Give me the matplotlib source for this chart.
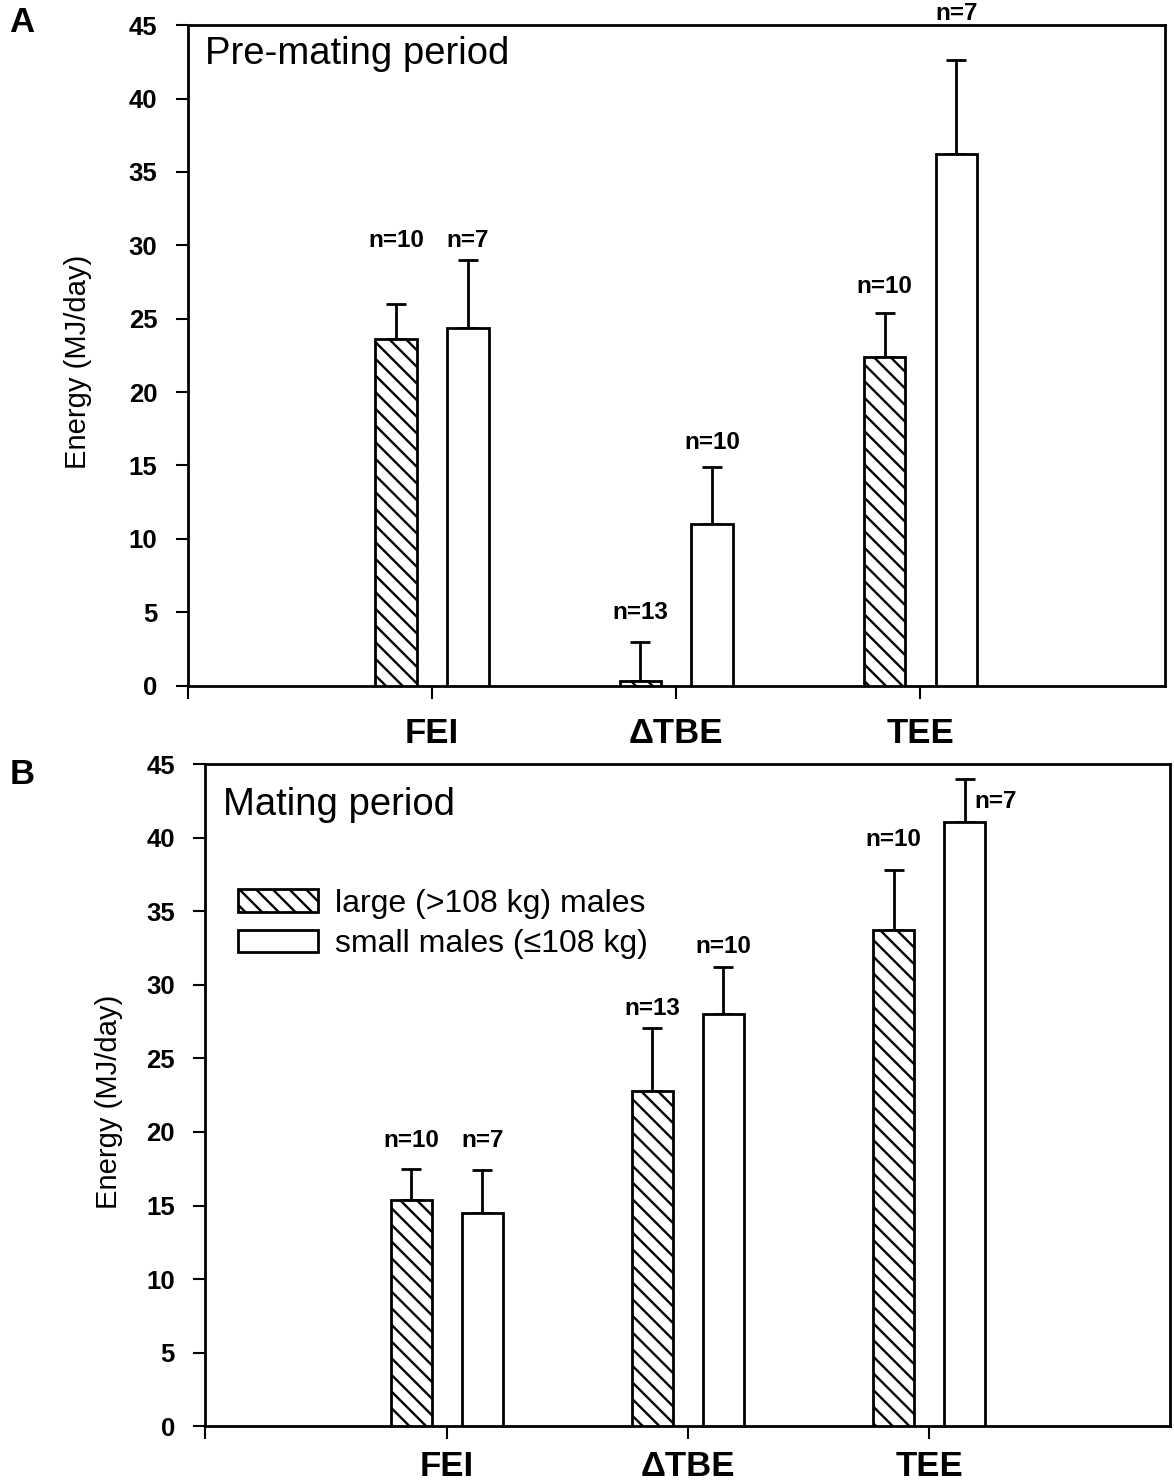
import matplotlib
matplotlib.use("Agg")
import matplotlib.pyplot as plt
import numpy as np

plt.rcParams['font.family'] = ['Liberation Sans', 'DejaVu Sans']
plt.rcParams['hatch.linewidth'] = 1.7

categories = ['FEI', '\u0394TBE', 'TEE']
series_names = ['large (>108 kg) males', 'small males (\u2264108 kg)']

# Panel A: pre-mating period
pre_large = [23.6, 0.3, 22.4]
pre_large_err = [2.4, 2.7, 3.0]
pre_small = [24.4, 11.0, 36.2]
pre_small_err = [4.6, 3.9, 6.4]
pre_large_n = ['n=10', 'n=13', 'n=10']
pre_small_n = ['n=7', 'n=10', 'n=7']

# Panel B: mating period
mat_large = [15.4, 22.8, 33.7]
mat_large_err = [2.1, 4.3, 4.1]
mat_small = [14.5, 28.0, 41.1]
mat_small_err = [2.9, 3.2, 2.9]
mat_large_n = ['n=10', 'n=13', 'n=10']
mat_small_n = ['n=7', 'n=10', 'n=7']

fig = plt.figure(figsize=(11.74, 14.84), dpi=100)
axA = fig.add_axes([0.160, 0.538, 0.832, 0.445])
axB = fig.add_axes([0.175, 0.0390, 0.822, 0.446])

W = 0.17
OFF = 0.147
x = np.arange(1, len(categories) + 1)


def draw(ax, large, large_err, small, small_err, nl, ns, title, title_y, label_pos_l, label_pos_s,
         xpad, ylab_x, legend=False):
    ax.bar(x - OFF, large, W, facecolor='white', edgecolor='black', hatch='\\\\', linewidth=2, zorder=3,
           label=series_names[0])
    ax.bar(x + OFF, small, W, facecolor='white', edgecolor='black', linewidth=2, zorder=3,
           label=series_names[1])
    ax.errorbar(x - OFF, large, yerr=[np.zeros(3), large_err], fmt='none', ecolor='black', elinewidth=2,
                capsize=7.5, capthick=2, zorder=2)
    ax.errorbar(x + OFF, small, yerr=[np.zeros(3), small_err], fmt='none', ecolor='black', elinewidth=2,
                capsize=7.5, capthick=2, zorder=2)
    for i in range(3):
        xl, yl, hal = label_pos_l[i]
        ax.text(x[i] - OFF + xl, yl, nl[i], ha=hal, va='center', fontsize=17.5, fontweight='bold', clip_on=False)
        xs, ys, has = label_pos_s[i]
        ax.text(x[i] + OFF + xs, ys, ns[i], ha=has, va='center', fontsize=17.5, fontweight='bold', clip_on=False)
    ax.set_xlim(0, 4)
    ax.set_ylim(0, 45)
    ax.set_yticks(np.arange(0, 46, 5))
    ax.set_xticks([0, 1, 2, 3])
    ax.set_xticklabels([''] + categories, fontsize=25, fontweight='bold')
    ax.tick_params(axis='x', direction='out', length=9, width=1.5, pad=xpad)
    ax.tick_params(axis='y', direction='out', length=9, width=1.5, labelsize=18.5, pad=13)
    for lab in ax.get_yticklabels():
        lab.set_fontweight('bold')
    for s in ax.spines.values():
        s.set_linewidth(2)
    ax.set_ylabel('Energy (MJ/day)', fontsize=21)
    ax.yaxis.set_label_coords(ylab_x, 0.49)
    ax.text(0.018, title_y, title, transform=ax.transAxes, ha='left', va='top', fontsize=27.5)
    if legend:
        ax.legend(loc='upper left', bbox_to_anchor=(0.034, 0.812), frameon=False, fontsize=23,
                  handlelength=2.5, handleheight=0.69, handletextpad=0.53, labelspacing=0.32,
                  borderaxespad=0, borderpad=0)


draw(axA, pre_large, pre_large_err, pre_small, pre_small_err, pre_large_n, pre_small_n,
     'Pre-mating period', 0.984,
     [(0, 30.3, 'center'), (0, 5.0, 'center'), (0, 27.2, 'center')],
     [(0, 30.3, 'center'), (0, 16.6, 'center'), (0, 45.8, 'center')],
     13.5, -0.098)
draw(axB, mat_large, mat_large_err, mat_small, mat_small_err, mat_large_n, mat_small_n,
     'Mating period', 0.966,
     [(0, 19.4, 'center'), (0, 28.4, 'center'), (0, 39.9, 'center')],
     [(0, 19.4, 'center'), (0, 32.6, 'center'), (0.04, 42.5, 'left')],
     8.5, -0.085, legend=True)

fig.text(0.008, 0.985, 'A', fontsize=25, fontweight='bold', ha='left', va='center')
fig.text(0.008, 0.478, 'B', fontsize=25, fontweight='bold', ha='left', va='center')

fig.savefig('out.png', dpi=100)
